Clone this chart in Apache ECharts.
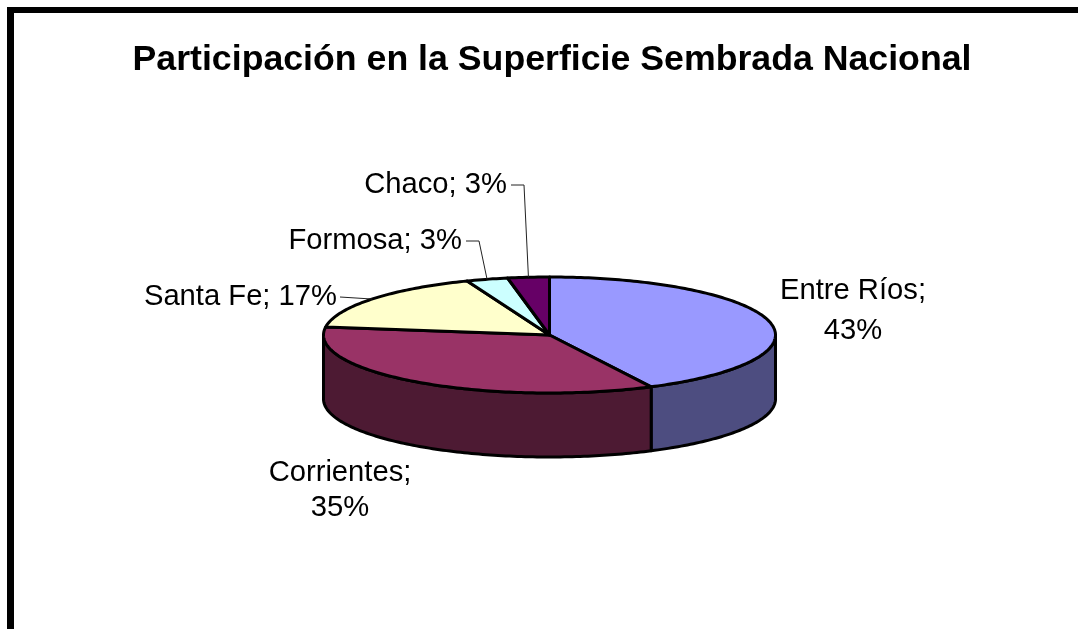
<!DOCTYPE html>
<html>
<head>
<meta charset="utf-8">
<title>Participación en la Superficie Sembrada Nacional</title>
<script src="https://cdn.jsdelivr.net/npm/echarts@6/dist/echarts.min.js"></script>
<style>
  html, body { margin: 0; padding: 0; background: #fff; }
  #chart { width: 1078px; height: 629px; }
</style>
</head>
<body>
<div id="chart"></div>
<script>
const chartTitle = 'Participación en la Superficie Sembrada Nacional';
const provinces = ['Entre Ríos', 'Corrientes', 'Santa Fe', 'Formosa', 'Chaco'];
const shares = [43, 35, 17, 3, 3];
const topColors = ['#9999ff', '#993366', '#ffffcc', '#ccffff', '#660066'];
const sideColors = ['#4d4d80', '#4d1a33', '#808066', '#668080', '#330033'];

// where each label sits, the original pie has them hand placed
const labelSpots = [
  { x: 853, y: 311, align: 'center', wrap: true, lineHeight: 40 },
  { x: 340, y: 490, align: 'center', wrap: true, lineHeight: 35 },
  { x: 337, y: 297, align: 'right', leader: [340, 340] },
  { x: 462, y: 241, align: 'right', leader: [466, 479] },
  { x: 507, y: 185, align: 'right', leader: [511, 524] }
];

const cx = 549.5;
const cy = 335;
const rx = 226;
const ry = 58;
const depth = 64;
const total = shares.reduce((a, b) => a + b, 0);

function rimPoint(deg, drop) {
  const t = deg * Math.PI / 180;
  return [cx + rx * Math.sin(t), cy - ry * Math.cos(t) + drop];
}

function arc(from, to, drop) {
  const pts = [];
  const steps = Math.max(2, Math.ceil(Math.abs(to - from)));
  for (let i = 0; i <= steps; i++) {
    pts.push(rimPoint(from + (to - from) * i / steps, drop));
  }
  return pts;
}

function renderSlice(params, api) {
  const i = params.dataIndex;
  const before = shares.slice(0, i).reduce((a, b) => a + b, 0);
  const start = before / total * 360;
  const end = start + api.value(0) / total * 360;
  const children = [];
  const edge = { stroke: '#000', lineWidth: 3, lineJoin: 'round' };

  // only the front half of the rim shows a wall
  const wallFrom = Math.max(start, 90);
  const wallTo = Math.min(end, 270);
  if (wallTo > wallFrom) {
    children.push({
      type: 'polygon',
      shape: { points: arc(wallFrom, wallTo, 0).concat(arc(wallTo, wallFrom, depth)) },
      style: { fill: sideColors[i], ...edge }
    });
  }

  children.push({
    type: 'polygon',
    shape: { points: [[cx, cy]].concat(arc(start, end, 0)) },
    style: { fill: topColors[i], ...edge }
  });

  const spot = labelSpots[i];
  if (spot.leader) {
    children.push({
      type: 'polyline',
      shape: { points: [[spot.leader[0], spot.y], [spot.leader[1], spot.y], rimPoint((start + end) / 2, 0)] },
      style: { fill: 'none', stroke: '#222', lineWidth: 1 }
    });
  }

  children.push({
    type: 'text',
    style: {
      text: provinces[i] + ';' + (spot.wrap ? '\n' : ' ') + api.value(0) + '%',
      x: spot.x,
      y: spot.y,
      align: spot.align,
      verticalAlign: 'middle',
      lineHeight: spot.lineHeight,
      fill: '#000',
      font: '29.2px "Liberation Sans", Arial, sans-serif'
    }
  });

  return { type: 'group', children };
}

const chart = echarts.init(document.getElementById('chart'), null, { renderer: 'canvas' });
chart.setOption({
  animation: false,
  backgroundColor: '#fff',
  title: {
    text: chartTitle,
    left: 547,
    top: 37,
    textAlign: 'center',
    textStyle: {
      color: '#000',
      fontFamily: '"Liberation Sans", Arial, sans-serif',
      fontWeight: 'bold',
      fontSize: 35.7
    }
  },
  // frame of the pasted picture, it has no right or bottom side
  graphic: [
    { type: 'rect', silent: true, shape: { x: 7, y: 7, width: 1071, height: 6 }, style: { fill: '#000' } },
    { type: 'rect', silent: true, shape: { x: 7, y: 7, width: 7, height: 622 }, style: { fill: '#000' } }
  ],
  series: [{
    type: 'custom',
    coordinateSystem: 'none',
    clip: false,
    silent: true,
    data: shares,
    renderItem: renderSlice
  }]
});
</script>
</body>
</html>
